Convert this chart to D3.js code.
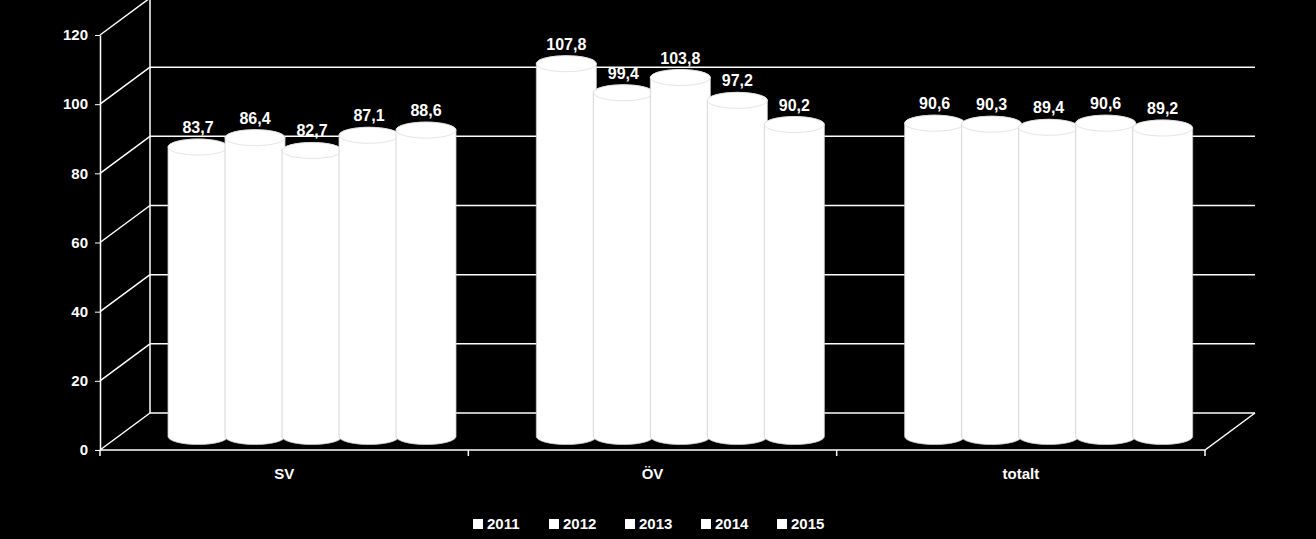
<!DOCTYPE html>
<html><head><meta charset="utf-8">
<script src="https://cdn.jsdelivr.net/npm/d3@7"></script>
<style>body{margin:0;background:#000}svg{display:block}</style>
</head><body>
<script>
const categories = ["SV","ÖV","totalt"];
const years = ["2011","2012","2013","2014","2015"];
const values = [
  [83.7,86.4,82.7,87.1,88.6],
  [107.8,99.4,103.8,97.2,90.2],
  [90.6,90.3,89.4,90.6,89.2]
];
const yTicks = [0,20,40,60,80,100,120];

const W=1316,H=539;
const svg=d3.select("body").append("svg").attr("width",W).attr("height",H).style("background","#000");
const font="'Liberation Sans', Arial, sans-serif";
const dx=50, dy=-37;
const x0=100, x1=1205;
const y=d3.scaleLinear().domain([0,120]).range([450,35]);
const x=d3.scaleBand().domain(categories).range([x0,x1]);
// back wall grid
yTicks.forEach(t=>{
  svg.append("line").attr("x1",x0+dx).attr("x2",x1+dx).attr("y1",y(t)+dy).attr("y2",y(t)+dy).attr("stroke","#fff").attr("stroke-width",1.5);
  svg.append("line").attr("x1",x0).attr("y1",y(t)).attr("x2",x0+dx).attr("y2",y(t)+dy).attr("stroke","#fff").attr("stroke-width",1.5);
});
svg.append("line").attr("x1",x0+dx).attr("x2",x0+dx).attr("y1",y(0)+dy).attr("y2",y(120)+dy).attr("stroke","#fff").attr("stroke-width",1.5);
// floor
svg.append("path").attr("d",`M${x0},${y(0)}L${x1},${y(0)}L${x1+dx},${y(0)+dy}`).attr("fill","none").attr("stroke","#fff").attr("stroke-width",1.5);
// y axis
const ya=svg.append("g").attr("transform",`translate(${x0},0)`).call(d3.axisLeft(y).tickValues(yTicks).tickSize(5).tickSizeOuter(0));
ya.select(".domain").attr("stroke","#fff").attr("stroke-width",1.5);
ya.selectAll("line").attr("stroke","#fff");
ya.selectAll("text").attr("fill","#fff").style("font","bold 15px "+font).attr("dx",-4);
// x axis
const xa=svg.append("g").attr("transform",`translate(0,${y(0)})`).call(d3.axisBottom(x).tickSize(0).tickSizeOuter(0));
xa.select(".domain").remove();
xa.selectAll("text").attr("fill","#fff").style("font","bold 15px "+font).attr("dy","1.7em");
categories.concat([]).forEach((c,i)=>{});
[x0].concat(categories.map(c=>x(c)+x.bandwidth())).forEach(px=>{
  svg.append("line").attr("x1",px).attr("x2",px).attr("y1",y(0)).attr("y2",y(0)+6).attr("stroke","#fff").attr("stroke-width",1.5);
});
// bars (cylinders) at mid depth
const base=y(0)+dy/2+(-13+18);
const unit=(y(0)-y(1));
const bw=60, step=57, rx=30, ry=8;
values.forEach((vals,ci)=>{
  const gx=x(categories[ci])+68;
  vals.forEach((v,i)=>{
    const L=gx+i*step, R=L+bw, top=base-v*unit;
    svg.append("path").attr("d",`M${L},${top}A${rx},${ry} 0 0 1 ${R},${top}L${R},${base}A${rx},${ry} 0 0 1 ${L},${base}Z`)
      .attr("fill","#fff").attr("stroke","#ccc").attr("stroke-width",0.8);
    svg.append("ellipse").attr("cx",L+bw/2).attr("cy",top).attr("rx",rx).attr("ry",ry).attr("fill","#fff").attr("stroke","#ddd").attr("stroke-width",0.8);
    svg.append("text").attr("x",L+bw/2).attr("y",top-14).attr("text-anchor","middle").attr("fill","#fff")
      .style("font","bold 16px "+font).text(String(v).replace(".",","));
  });
});
// legend
const lg=svg.append("g");
let lx=473;
years.forEach(yr=>{
  lg.append("rect").attr("x",lx).attr("y",519).attr("width",10).attr("height",10).attr("fill","#fff");
  lg.append("text").attr("x",lx+14).attr("y",529).attr("fill","#fff").style("font","bold 15px "+font).text(yr);
  lx+=76;
});
</script>
</body></html>
